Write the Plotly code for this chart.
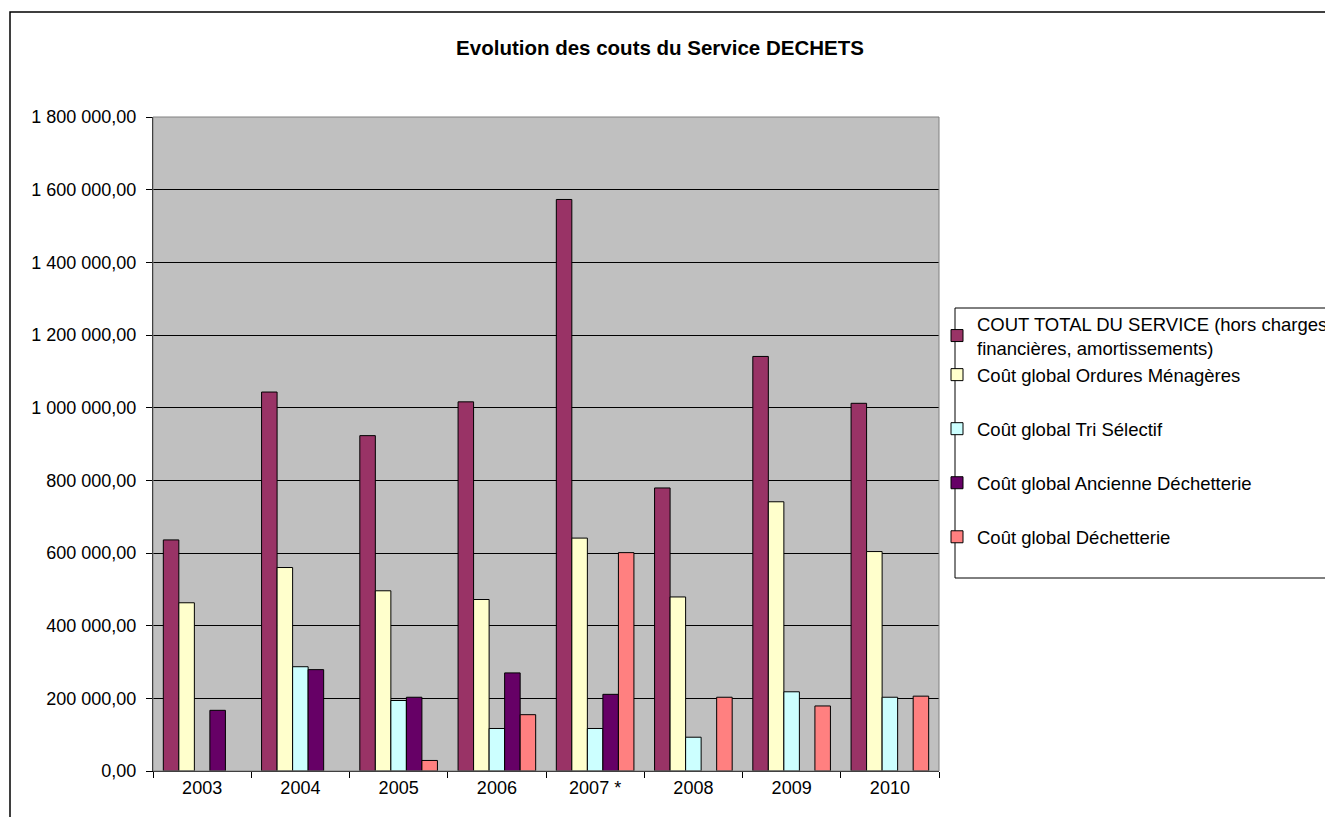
import plotly.graph_objects as go

years = ["2003", "2004", "2005", "2006", "2007 *", "2008", "2009", "2010"]

cout_total = [636000, 1043000, 923000, 1016000, 1573000, 779000, 1141000, 1012000]
ordures_menageres = [463000, 560000, 496000, 472000, 641000, 479000, 741000, 604000]
tri_selectif = [None, 287000, 194000, 117000, 117000, 93000, 218000, 203000]
ancienne_dechetterie = [167000, 279000, 203000, 270000, 211000, None, None, None]
dechetterie = [None, None, 29000, 155000, 601000, 203000, 179000, 206000]

series_names = [
    "COUT TOTAL DU SERVICE (hors charges<br>financières, amortissements)",
    "Coût global Ordures Ménagères",
    "Coût global Tri Sélectif",
    "Coût global Ancienne Déchetterie",
    "Coût global Déchetterie",
]
series_values = [cout_total, ordures_menageres, tri_selectif, ancienne_dechetterie, dechetterie]
series_colors = ["#993366", "#FFFFCC", "#CCFFFF", "#660066", "#FF8080"]
series_groups = ["g0", "g0", "g2", "g3", "g4"]

tick_values = [0, 200000, 400000, 600000, 800000, 1000000, 1200000, 1400000, 1600000, 1800000]


def fr_format(v):
    s = f"{v:,.2f}"
    return s.replace(",", " ").replace(".", ",")


tick_text = [fr_format(v) for v in tick_values]

FONT = "Liberation Sans, Arial, sans-serif"

fig = go.Figure()
for name, vals, col, grp in zip(series_names, series_values, series_colors, series_groups):
    fig.add_trace(go.Bar(
        x=years, y=vals, name=name,
        marker=dict(color=col, line=dict(color="#000000", width=1)),
        legendgroup=grp,
    ))

# page body margin is 8px, so positions are given in screen px and shifted by OFF
OFF = 8
W, H = 1333 - 2 * OFF, 825 - 2 * OFF
ml, mt = 153 - OFF, 117 - OFF
mr = W - (939 - OFF)
mb = H - (771 - OFF)
pw, ph = W - ml - mr, H - mt - mb


def px_to_paper_x(px):
    return (px - OFF - ml) / pw


def px_to_paper_y(py):
    return (H - mb - (py - OFF)) / ph


fig.update_layout(
    width=W, height=H,
    margin=dict(l=ml, r=mr, t=mt, b=mb, autoexpand=False),
    paper_bgcolor="#FFFFFF",
    plot_bgcolor="#C0C0C0",
    barmode="group",
    bargap=0.21,
    bargroupgap=0,
    font=dict(family=FONT, size=18, color="#000000"),
    title=dict(
        text="<b>Evolution des couts du Service DECHETS</b>",
        x=(660 - OFF) / W, xanchor="center", xref="container",
        y=1 - (48 - OFF) / H, yanchor="middle", yref="container",
        font=dict(family=FONT, size=20.5, color="#000000"),
    ),
    xaxis=dict(
        type="category",
        showgrid=False,
        showline=True, linecolor="#000000", linewidth=1,
        ticks="outside", ticklen=6, tickcolor="#000000",
        tickson="boundaries",
        tickfont=dict(family=FONT, size=18, color="#000000"),
    ),
    yaxis=dict(
        range=[0, 1800000],
        tickvals=tick_values, ticktext=tick_text,
        showgrid=True, gridcolor="#000000", gridwidth=1,
        showline=True, linecolor="#000000", linewidth=1,
        ticks="outside", ticklen=6, tickcolor="#000000",
        ticklabelstandoff=6,
        zeroline=False,
        tickfont=dict(family=FONT, size=18, color="#000000"),
    ),
    legend=dict(
        x=px_to_paper_x(937), xanchor="left",
        y=px_to_paper_y(305), yanchor="top",
        bgcolor="rgba(0,0,0,0)",
        borderwidth=0,
        traceorder="grouped",
        tracegroupgap=27,
        font=dict(family=FONT, size=18.5, color="#000000"),
    ),
    showlegend=True,
)

# plot-area border (top/right gray)
fig.add_shape(type="rect", xref="paper", yref="paper", x0=0, x1=1, y0=0, y1=1,
              line=dict(color="#808080", width=1), fillcolor="rgba(0,0,0,0)", layer="above")
# outer chart border
fig.add_shape(type="rect", xref="paper", yref="paper",
              x0=px_to_paper_x(10), x1=px_to_paper_x(1400),
              y0=px_to_paper_y(900), y1=px_to_paper_y(12),
              line=dict(color="#000000", width=1.5), fillcolor="rgba(0,0,0,0)")
# legend box
fig.add_shape(type="rect", xref="paper", yref="paper",
              x0=px_to_paper_x(955), x1=px_to_paper_x(1400),
              y0=px_to_paper_y(578), y1=px_to_paper_y(308),
              line=dict(color="#000000", width=1), fillcolor="rgba(0,0,0,0)")

fig.write_html("out.html")
